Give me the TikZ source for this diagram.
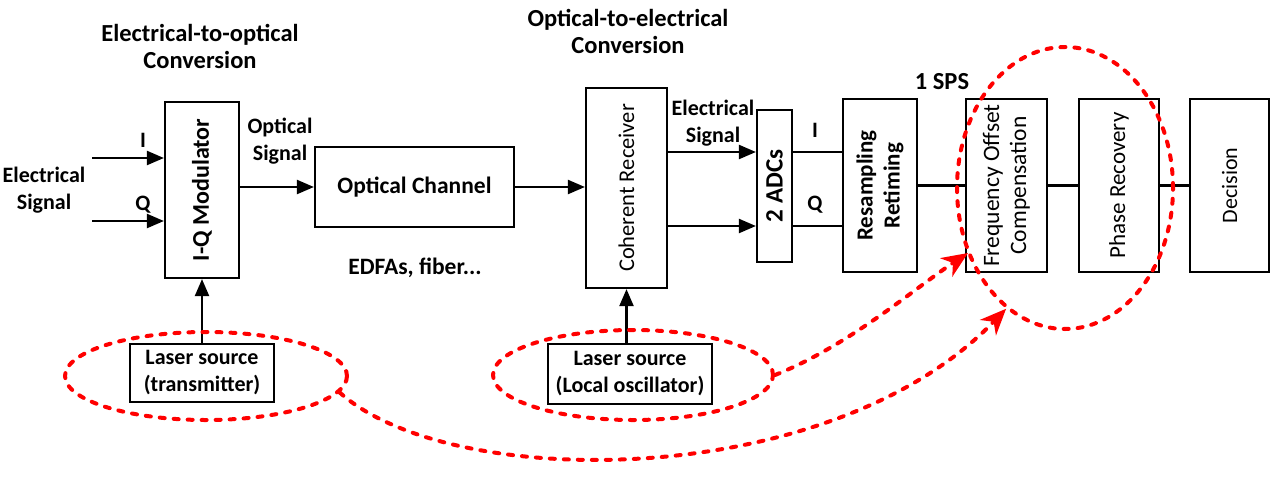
\documentclass[tikz,border=0pt]{standalone}
\usepackage{fontspec}
\setmainfont{Carlito}
\usetikzlibrary{arrows.meta,shapes.geometric}
\newcommand\fsz[1]{\fontsize{#1}{27}\selectfont}
\begin{document}
\begin{tikzpicture}[x=1pt,y=-1pt,
  box/.style={draw, line width=2.2pt, inner sep=0pt},
  lbl/.style={font=\fsz{22}\bfseries, align=center, inner sep=0pt},
  ttl/.style={font=\fsz{24.5}\bfseries, align=center, inner sep=0pt},
  rlbl/.style={align=center, inner sep=0pt, rotate=90},
  arr/.style={line width=2.2pt, -{Triangle[length=17pt,width=14pt]}},
  wire/.style={line width=2.2pt},
  redd/.style={draw=red, line width=4pt, dash pattern=on 5pt off 9pt, line cap=round},
  redell/.style={ellipse, redd, inner sep=0pt},
  redarr/.style={redd, -{Stealth[length=26pt,width=22pt,inset=8pt]}}]
\useasboundingbox (0,0) rectangle (1276,480);
% titles
\node[ttl] (t1) at (200,46) {Electrical-to-optical\\Conversion};
\node[ttl] (t2) at (628,31) {Optical-to-electrical\\Conversion};
% boxes
\node[box, minimum width=74pt, minimum height=176pt] (iq) at (202,190) {};
\node[rlbl, font=\fsz{24}\bfseries] (iqt) at (iq.center) {I-Q Modulator};
\node[box, minimum width=199pt, minimum height=80pt, font=\fsz{23.5}\bfseries] (och) at (414.5,187) {Optical Channel};
\node[box, minimum width=81pt, minimum height=200pt] (coh) at (626.5,188) {};
\node[rlbl, font=\fsz{22.5}] (coht) at (coh.center) {Coherent Receiver};
\node[box, minimum width=35pt, minimum height=152pt] (adc) at (774.5,186) {};
\node[rlbl, font=\fsz{25}\bfseries] (adct) at (adc.center) {2 ADCs};
\node[box, minimum width=74pt, minimum height=173pt] (res) at (880,185.5) {};
\node[rlbl, font=\fsz{23}\bfseries] (rest) at (res.center) {Resampling\\Retiming};
\node[box, minimum width=81pt, minimum height=173pt] (foc) at (1006.5,185.5) {};
\node[rlbl, font=\fsz{23.5}] (foct) at (foc.center) {Frequency Offset\\Compensation};
\node[box, minimum width=80pt, minimum height=173pt] (pr) at (1119,185.5) {};
\node[rlbl, font=\fsz{23}] (prt) at (pr.center) {Phase Recovery};
\node[box, minimum width=79pt, minimum height=173pt] (dec) at (1229.5,185.5) {};
\node[rlbl, font=\fsz{22}] (dect) at (dec.center) {Decision};
\node[box, minimum width=144pt, minimum height=58pt, font=\fsz{22}\bfseries, align=center] (ltx) at (202,373) {Laser source\\(transmitter)};
\node[box, minimum width=164pt, minimum height=60pt, font=\fsz{22}\bfseries, align=center] (llo) at (630,374) {Laser source\\(Local oscillator)};
% labels
\node[lbl] (es1) at (44,190) {Electrical\\Signal};
\node[lbl] (li1) at (143,140) {I};
\node[lbl] (lq1) at (143,205) {Q};
\node[lbl] (os) at (280,141) {Optical\\Signal};
\node[lbl, font=\fsz{23.5}\bfseries] (edfa) at (415,268) {EDFAs, fiber...};
\node[lbl] (es2) at (713,123) {Electrical\\Signal};
\node[lbl] (li2) at (815,130) {I};
\node[lbl] (lq2) at (815,205) {Q};
\node[ttl] (sps) at (942,82) {1 SPS};
% connectors
\coordinate (inI) at (92,158);
\coordinate (inQ) at (92,221);
\draw[arr] (inI) -- (inI -| iq.west);
\draw[arr] (inQ) -- (inQ -| iq.west);
\draw[arr] (iq.east |- och.west) -- (och.west);
\draw[arr] (och.east) -- (och.east -| coh.west);
\coordinate (cI) at (667,152);
\coordinate (cQ) at (667,226);
\draw[arr] (cI) -- (cI -| adc.west);
\draw[arr] (cQ) -- (cQ -| adc.west);
\draw[wire] (adc.east |- cI) -- (res.west |- cI);
\draw[wire] (adc.east |- cQ) -- (res.west |- cQ);
\draw[wire] (res.east) -- (foc.west);
\draw[wire] (foc.east) -- (pr.west);
\draw[wire] (pr.east) -- (dec.west);
\draw[arr] (ltx.north) -- (ltx.north |- iq.south);
\draw[arr] (llo.north -| coh.south) -- (coh.south);
% red ellipses
\node[redell, minimum width=282pt, minimum height=88pt] (e1) at (206,376) {};
\node[redell, minimum width=280pt, minimum height=90pt] (e2) at (633,375) {};
\node[redell, minimum width=216pt, minimum height=282pt] (e3) at (1065,188) {};
\coordinate (a1end) at (968,253);
\draw[redarr] (e2.east) .. controls (850,345) and (915,288) .. (a1end);
\draw[redarr] (e1.-7) .. controls (450,492) and (830,492) .. (e3.-116);
\end{tikzpicture}
\end{document}
